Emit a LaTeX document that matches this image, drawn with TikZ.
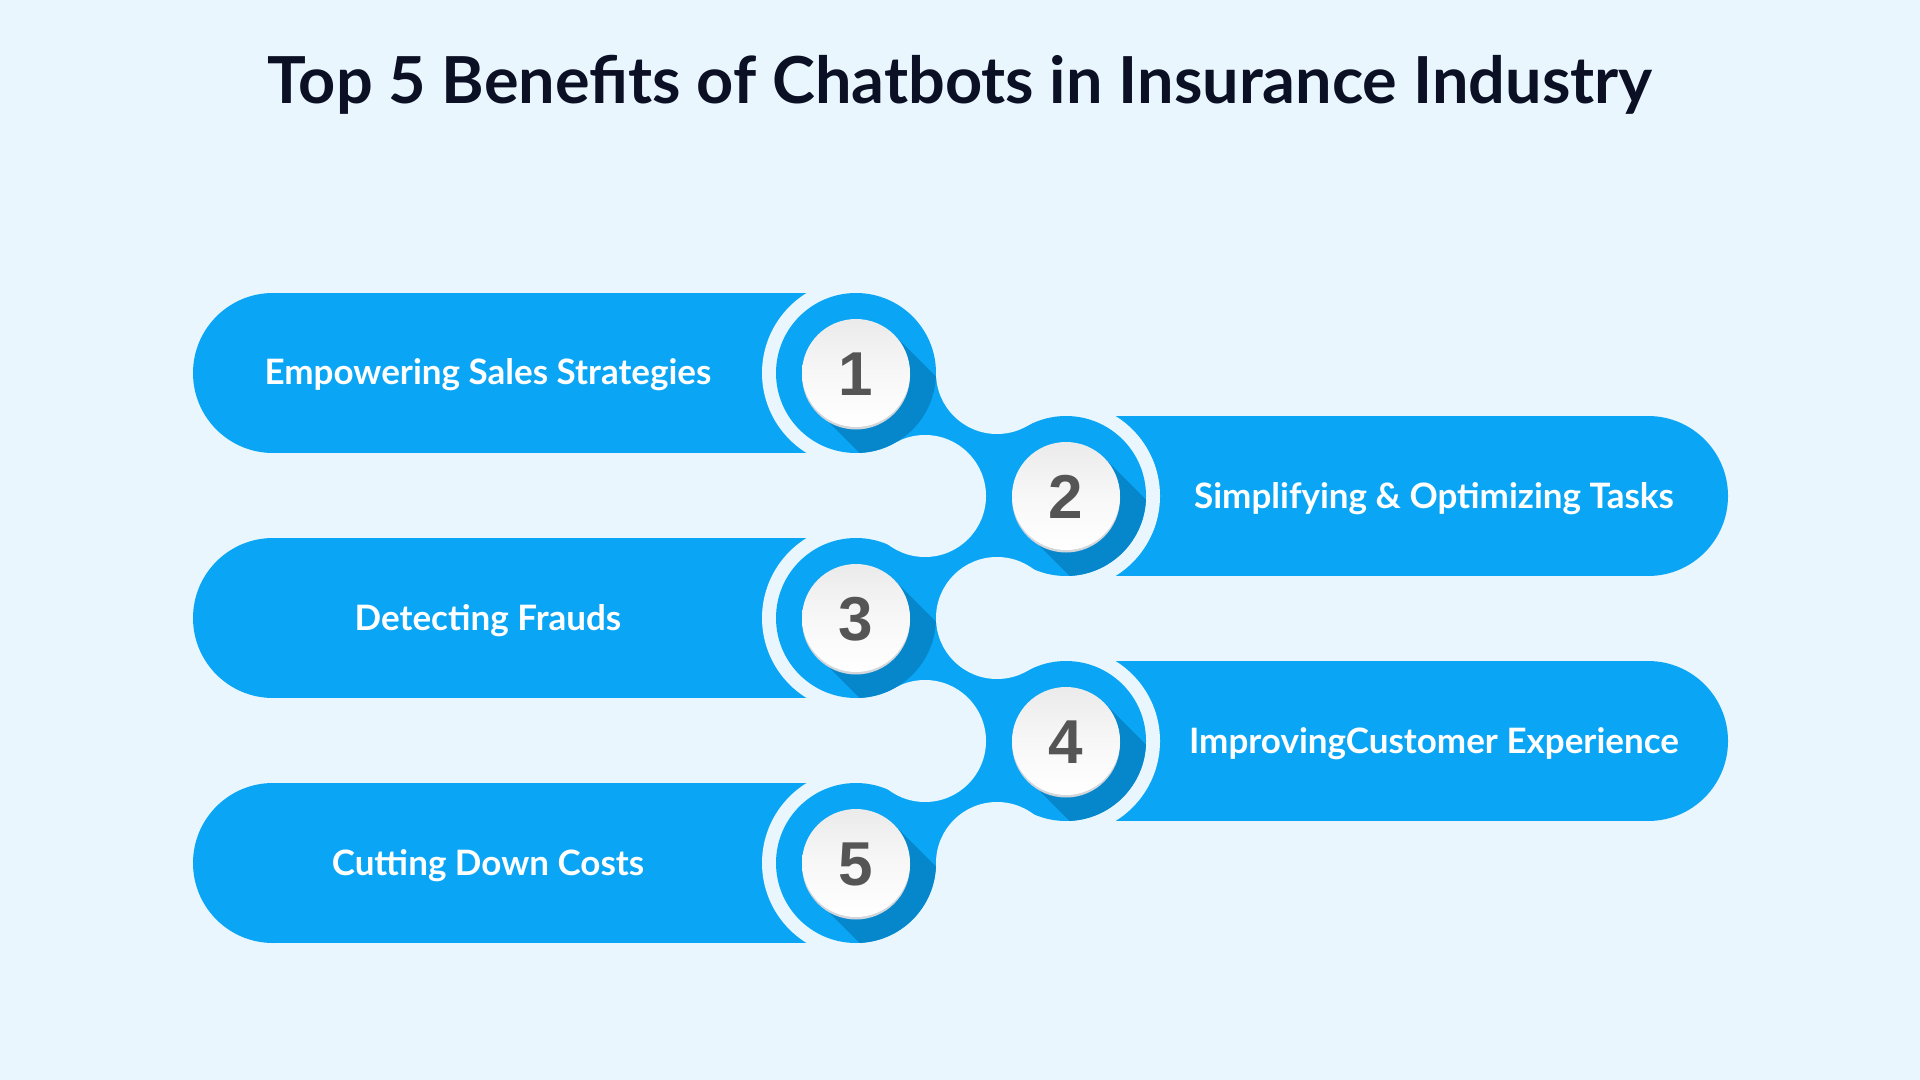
\documentclass[tikz,border=0pt]{standalone}
\usepackage{fontspec}
\setmainfont{Lato}
\newfontfamily\numfont{Liberation Sans}
\usetikzlibrary{calc}
\definecolor{bgc}{HTML}{E9F6FE}
\definecolor{bluec}{HTML}{0AA6F5}
\definecolor{shadec}{HTML}{0787CB}
\definecolor{titlec}{HTML}{0B1024}
\definecolor{numc}{HTML}{555555}
\definecolor{rimc}{HTML}{D2D6DA}
\tikzset{
  titletext/.style={font=\fontsize{32.4}{38}\selectfont\bfseries, text=titlec, anchor=base, inner sep=0pt},
  bartext/.style={font=\fontsize{17.5}{21}\selectfont\bfseries, text=white, anchor=base, inner sep=0pt},
  numtext/.style={font=\numfont\fontsize{31}{35}\selectfont\bfseries, text=numc, anchor=base, inner sep=0pt},
}
\newcommand{\tk}{0.5673}
\begin{document}
\begin{tikzpicture}[x=0.5pt,y=-0.5pt]
\fill[bgc] (0,0) rectangle (1920,1080);
\useasboundingbox (0,0) rectangle (1920,1080);

% centres
\coordinate (c1) at (856,373);
\coordinate (c2) at (1066,496);
\coordinate (c3) at (856,618);
\coordinate (c4) at (1066,741);
\coordinate (c5) at (856,863);
% fillet centres
\coordinate (f1) at (997,373);
\coordinate (f2) at (925,496);
\coordinate (f3) at (997,618);
\coordinate (f4) at (925,741);
\coordinate (f5) at (997,863);

% bars
\foreach \y in {373,618,863}{
  \fill[bluec] (273,\y) circle[radius=80];
  \fill[bluec] (273,\y-80) rectangle (856,\y+80);
}
\foreach \y in {496,741}{
  \fill[bluec] (1648,\y) circle[radius=80];
  \fill[bluec] (1066,\y-80) rectangle (1648,\y+80);
}
% light rings
\foreach \c in {c1,c2,c3,c4,c5}{
  \fill[bgc] (\c) circle[radius=94];
}
% bridges
\foreach \p/\q/\u/\l in {c1/c2/f1/f2, c2/c3/f2/f3, c3/c4/f3/f4, c4/c5/f4/f5}{
  \fill[bluec] (\p) -- ($(\p)!\tk!(\u)$) -- ($(\q)!\tk!(\u)$) -- (\q)
    -- ($(\q)!\tk!(\l)$) -- ($(\p)!\tk!(\l)$) -- cycle;
}
% blue circles
\foreach \c in {c1,c2,c3,c4,c5}{
  \fill[bluec] (\c) circle[radius=80];
}
% fillets
\foreach \f in {f1,f2,f3,f4,f5}{
  \fill[bgc] (\f) circle[radius=61];
}
% shadows
\foreach \c in {c1,c2,c3,c4,c5}{
  \begin{scope}
    \clip (\c) circle[radius=80];
    \fill[shadec] ($(\c)+(38.2,-38.2)$) -- ($(\c)+(238.2,161.8)$)
      -- ($(\c)+(161.8,238.2)$) -- ($(\c)+(-38.2,38.2)$) -- cycle;
  \end{scope}
}
% white discs
\foreach \c in {c1,c2,c3,c4,c5}{
  \fill[rimc] ($(\c)+(0,2.5)$) circle[radius=54];
  \shade[top color=white!92!black, bottom color=white, middle color=white!97!black] (\c) circle[radius=54];
}
% numbers
\foreach \c/\n in {c1/1,c2/2,c3/3,c4/4,c5/5}{
  \node[numtext] (n\n) at ($(\c)+(0,22)$) {\n};
}

% title
\node[titletext] (title) at (960,104) {Top 5 Benefits of Chatbots in Insurance Industry};

% labels
\node[bartext] (t1) at (488,385) {Empowering Sales Strategies};
\node[bartext] (t2) at (1434,508) {Simplifying \& Optimizing Tasks};
\node[bartext] (t3) at (488,630) {Detecting Frauds};
\node[bartext] (t4) at (1434,753) {ImprovingCustomer Experience};
\node[bartext] (t5) at (488,875) {Cutting Down Costs};
\end{tikzpicture}
\end{document}
